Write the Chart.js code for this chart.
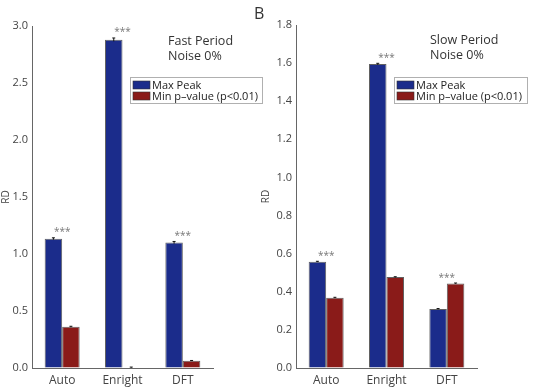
<!DOCTYPE html>
<html><head><meta charset="utf-8">
<script src="https://cdn.jsdelivr.net/npm/chart.js@4"></script>
<style>
html,body{margin:0;padding:0;background:#fff;width:550px;height:389px;overflow:hidden}
canvas{position:absolute;top:0}
#c1{left:0}
#c2{left:260px}
</style></head><body>
<canvas id="c1" width="275" height="389"></canvas>
<canvas id="c2" width="290" height="389"></canvas>
<script>
const categories = ['Auto', 'Enright', 'DFT'];
const seriesNames = ['Max Peak', 'Min p\u2013value (p<0.01)'];

const fastMaxPeak = [1.134, 2.88, 1.10];
const fastMinP = [0.362, 0.005, 0.064];
const fastMaxPeakErr = [0.008, 0.015, 0.01];
const fastMinPErr = [0.004, 0.003, 0.002];
const fastStars = ['***', '***', '***'];
const fastTicks = [0, 0.5, 1.0, 1.5, 2.0, 2.5, 3.0];
const fastTitle = ['Fast Period', 'Noise 0%'];

const slowMaxPeak = [0.558, 1.595, 0.31];
const slowMinP = [0.369, 0.477, 0.444];
const slowMaxPeakErr = [0.002, 0.004, 0.002];
const slowMinPErr = [0.002, 0.002, 0.002];
const slowStars = ['***', '***', '***'];
const slowTicks = [0, 0.2, 0.4, 0.6, 0.8, 1.0, 1.2, 1.4, 1.6, 1.8];
const slowTitle = ['Slow Period', 'Noise 0%'];

const yTitle = 'RD';
const panelLetter = 'B';

const BLUE = '#1b2c8b';
const RED = '#8a1b19';
const FONT = 'Open Sans';

function makeChart(id, maxVals, minVals, maxErr, minErr, stars, ticks, titleLines, cfg) {
  const extras = {
    id: 'extras',
    afterDatasetsDraw(chart) {
      const ctx = chart.ctx;
      const ca = chart.chartArea;
      const ys = chart.scales.y;
      const xs = chart.scales.x;
      const errs = [maxErr, minErr];
      ctx.save();
      // error bars
      ctx.strokeStyle = '#111';
      ctx.lineWidth = 1;
      chart.data.datasets.forEach((ds, di) => {
        const meta = chart.getDatasetMeta(di);
        meta.data.forEach((bar, i) => {
          const v = ds.data[i], e = errs[di][i];
          const y1 = ys.getPixelForValue(v + e), y0 = ys.getPixelForValue(Math.max(0, v - e));
          ctx.beginPath();
          ctx.moveTo(bar.x, y0); ctx.lineTo(bar.x, y1);
          ctx.moveTo(bar.x - 1.5, y1); ctx.lineTo(bar.x + 1.5, y1);
          ctx.stroke();
        });
      });
      // significance stars
      ctx.fillStyle = '#777';
      ctx.font = '10px "' + FONT + '"';
      ctx.textAlign = 'center';
      ctx.textBaseline = 'alphabetic';
      stars.forEach((s, i) => {
        if (!s) return;
        const top = Math.min(ys.getPixelForValue(maxVals[i] + maxErr[i]), ys.getPixelForValue(minVals[i] + minErr[i]));
        ctx.fillText(s, xs.getPixelForValue(i), top - 2.5);
      });
      // titles
      ctx.fillStyle = '#333';
      ctx.font = '12.5px "' + FONT + '"';
      ctx.textAlign = 'left';
      titleLines.forEach((t, k) => ctx.fillText(t, ca.left + cfg.titleDx, cfg.titleY + k * 15));
      // legend
      const lx = ca.left + 98, ly = 77, lw = cfg.legendW, lh = 26;
      ctx.fillStyle = '#fff';
      ctx.fillRect(lx, ly, lw, lh);
      ctx.strokeStyle = '#b0b0b0';
      ctx.lineWidth = 1;
      ctx.strokeRect(lx + 0.5, ly + 0.5, lw, lh);
      ctx.font = '11px "' + FONT + '"';
      chart.data.datasets.forEach((ds, di) => {
        ctx.fillStyle = ds.backgroundColor;
        ctx.fillRect(lx + 3, ly + 4 + di * 11, 17, 8);
        ctx.strokeStyle = '#333';
        ctx.lineWidth = 0.6;
        ctx.strokeRect(lx + 3, ly + 4 + di * 11, 17, 8);
        ctx.fillStyle = '#222';
        ctx.fillText(ds.label, lx + 22, ly + 12 + di * 11);
      });
      if (cfg.letter) {
        ctx.fillStyle = '#333';
        ctx.font = '16px "' + FONT + '"';
        ctx.fillText(cfg.letter, cfg.letterX, 19);
      }
      ctx.restore();
    }
  };
  return new Chart(document.getElementById(id), {
    type: 'bar',
    data: {
      labels: categories,
      datasets: [
        { label: seriesNames[0], data: maxVals, backgroundColor: BLUE, borderColor: 'rgba(30,30,30,0.7)', borderWidth: 1, barPercentage: 1, categoryPercentage: 0.58 },
        { label: seriesNames[1], data: minVals, backgroundColor: RED, borderColor: 'rgba(30,30,30,0.7)', borderWidth: 1, barPercentage: 1, categoryPercentage: 0.58 }
      ]
    },
    options: {
      responsive: false,
      animation: false,
      devicePixelRatio: 1,
      layout: { padding: { left: 0, right: cfg.padRight, top: cfg.padTop, bottom: 0 } },
      plugins: { legend: { display: false }, tooltip: { enabled: false } },
      scales: {
        x: {
          grid: { display: true, drawOnChartArea: false, drawTicks: false },
          border: { display: true, color: '#666', width: 1 },
          ticks: { color: '#444', font: { family: FONT, size: 12 }, padding: 5, maxRotation: 0 },
          afterFit: s => { s.height = 21; }
        },
        y: {
          min: 0, max: ticks[ticks.length - 1],
          grid: { display: true, drawOnChartArea: false, drawTicks: false },
          border: { display: true, color: '#666', width: 1 },
          afterBuildTicks: s => { s.ticks = ticks.map(v => ({ value: v })); },
          ticks: { color: '#444', font: { family: FONT, size: 11 }, padding: 4, callback: v => Number(v).toFixed(1) },
          title: { display: true, text: yTitle, color: '#444', font: { family: FONT, size: 10 }, padding: 0 },
          afterFit: s => { s.width = cfg.yWidth; }
        }
      }
    },
    plugins: [extras]
  });
}

makeChart('c1', fastMaxPeak, fastMinP, fastMaxPeakErr, fastMinPErr, fastStars, fastTicks, fastTitle,
  { yWidth: 32, padRight: 62, padTop: 26, titleDx: 136, titleY: 45, legendW: 132, letter: panelLetter, letterX: 254 });
makeChart('c2', slowMaxPeak, slowMinP, slowMaxPeakErr, slowMinPErr, slowStars, slowTicks, slowTitle,
  { yWidth: 36, padRight: 73, padTop: 25, titleDx: 134, titleY: 44, legendW: 133, letter: null });
</script>
</body></html>
